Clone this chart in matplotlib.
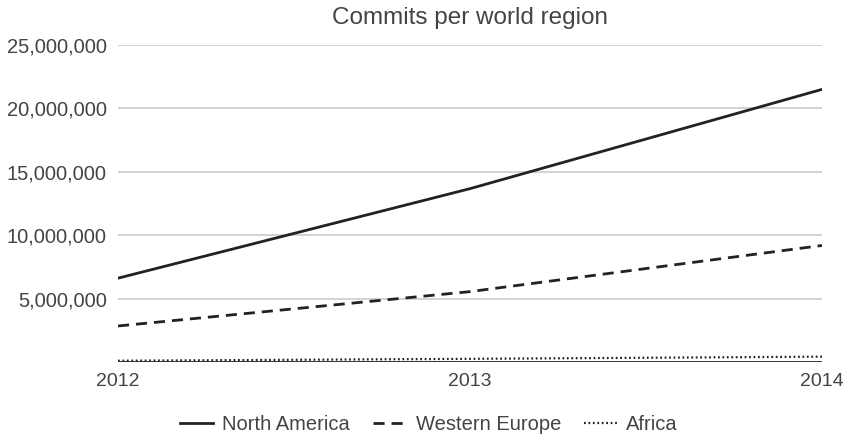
import matplotlib
matplotlib.use("Agg")
import matplotlib.pyplot as plt
from matplotlib.ticker import FuncFormatter

years = [2012, 2013, 2014]
north_america = [6_610_000, 13_670_000, 21_500_000]
western_europe = [2_840_000, 5_550_000, 9_190_000]
africa = [100_000, 250_000, 420_000]
y_ticks = [5_000_000, 10_000_000, 15_000_000, 20_000_000, 25_000_000]

plt.rcParams["font.family"] = ["Liberation Sans", "DejaVu Sans"]
TEXT = "#444444"

fig = plt.figure(figsize=(8.48, 4.38), dpi=100)
ax = fig.add_axes([118 / 848, 1 - 362 / 438, (822 - 118) / 848, (362 - 45) / 438])

ax.plot(years, north_america, color="#222222", linewidth=2.0, linestyle="-",
        label="North America")
ax.plot(years, western_europe, color="#222222", linewidth=2.0, linestyle=(0, (4, 2.5)),
        label="Western Europe")
ax.plot(years, africa, color="#222222", linewidth=1.6, linestyle=(0, (0.8, 1.2)),
        label="Africa")
ax.axhline(0, color="#222222", linewidth=2.0, zorder=1)

ax.set_xlim(2012, 2014)
ax.set_ylim(0, 25_000_000)
ax.set_xticks(years)
ax.set_yticks(y_ticks)
ax.yaxis.set_major_formatter(FuncFormatter(lambda v, _: f"{v:,.0f}"))
ax.grid(axis="y", color="#cccccc", linewidth=1.2)
ax.set_axisbelow(True)
for s in ax.spines.values():
    s.set_visible(False)
ax.tick_params(length=0, labelsize=14.5, labelcolor=TEXT)
ax.tick_params(axis="x", labelsize=14)
ax.tick_params(axis="y", pad=8)
ax.tick_params(axis="x", pad=8)

# title sits centred over the plot area, ~18 px from the top edge
ax.set_title("Commits per world region", fontsize=17.5, color=TEXT, pad=0, y=1 + 27 / 317,
             va="center")
fig.legend(*ax.get_legend_handles_labels(), loc="center",
           bbox_to_anchor=(429 / 848, 1 - 425 / 438), ncol=3, frameon=False,
           fontsize=14.5, labelcolor=TEXT, handlelength=1.65, handletextpad=0.45,
           columnspacing=1.15)

fig.savefig("out.png", dpi=100)
